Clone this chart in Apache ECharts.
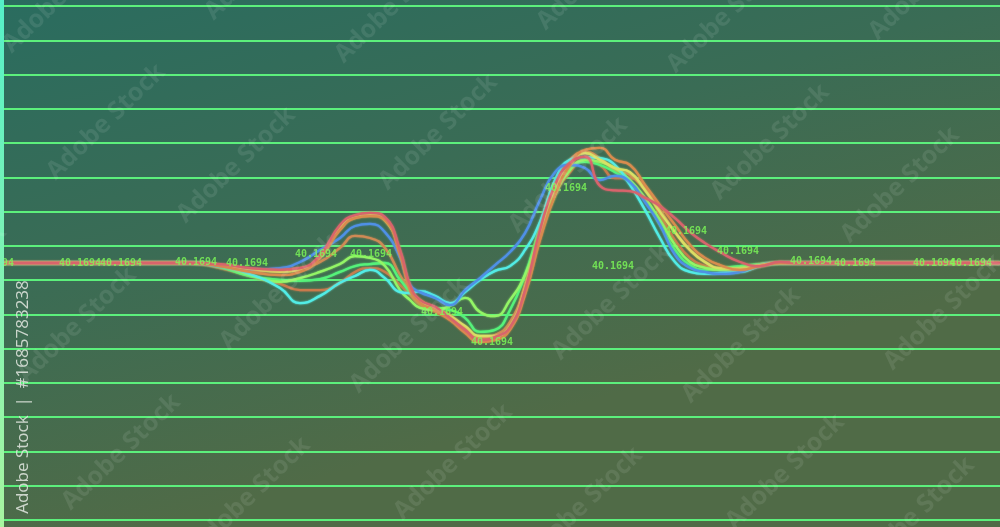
<!DOCTYPE html>
<html>
<head>
<meta charset="utf-8">
<script src="https://cdn.jsdelivr.net/npm/echarts@6/dist/echarts.min.js"></script>
<style>
html,body{margin:0;padding:0;width:1000px;height:527px;overflow:hidden;}
#chart{width:1000px;height:527px;}
</style>
</head>
<body>
<div id="chart"></div>
<script>
// shared x positions (time steps)
const xs = [0,190,220,250,280,300,320,340,355,370,385,400,410,420,435,450,465,480,495,510,525,540,555,570,585,600,615,630,645,660,675,690,705,720,740,760,780,800,1000];

const seriesRed     = [7.5,7.5,7.47,7.35,7.3,7.35,7.73,8.61,8.9,8.96, 8.84,7.88,6.86,6.42,6.22,5.9,5.55,5.25,5.34,5.63, 6.71,8.46,9.78,10.42,10.6,9.75,9.62,9.6,9.4,9.16, 8.81,8.4,8.08,7.82,7.53,7.41,7.53,7.5,7.5];
const seriesOrange  = [7.5,7.5,7.41,7.24,7.15,7.24,7.65,8.46,8.81,8.87, 8.75,7.74,6.71,6.33,6.13,5.84,5.46,5.19,5.25,5.55, 6.57,8.17,9.48,10.36,10.8,10.86,10.51,10.36,9.78,9.19, 8.61,8.03,7.65,7.44,7.3,7.41,7.5,7.5,7.5];
const seriesBlue    = [7.5,7.5,7.41,7.3,7.35,7.53,7.88,8.23,8.58,8.64, 8.4,7.65,6.86,6.65,6.48,6.27,6.71,7.06,7.44,7.82, 8.37,9.34,10.15,10.36,10.27,9.92,10.04,9.86,9.28,8.61, 7.74,7.36,7.24,7.18,7.24,7.44,7.5,7.5,7.5];
const seriesCyan    = [7.5,7.5,7.41,7.18,6.77,6.33,6.54,6.92,7.12,7.3, 7.06,6.65,6.62,6.68,6.54,6.33,6.65,7.01,7.27,7.41, 7.88,8.7,9.92,10.51,10.59,10.56,10.36,9.78,9.05,8.23, 7.53,7.24,7.18,7.21,7.24,7.41,7.5,7.5,7.5];
const seriesLime    = [7.5,7.5,7.41,7.15,6.95,7.06,7.24,7.47,7.7,7.65, 7.41,6.71,6.42,6.19,6.13,6.25,6.48,6.07,5.95,6.42, 7.15,8.32,9.48,10.21,10.51,10.45,10.27,9.92,9.4,8.75, 8.03,7.53,7.36,7.3,7.36,7.44,7.5,7.5,7.5];
const seriesGreen   = [7.5,7.5,7.38,7.12,7.01,6.98,7.03,7.24,7.41,7.47, 7.5,7.01,6.65,6.33,6.19,6.13,5.9,5.49,5.55,6.13, 7.15,8.52,9.63,10.27,10.45,10.36,10.15,9.86,9.34,8.61, 7.88,7.44,7.3,7.35,7.41,7.47,7.5,7.5,7.5];
const seriesTan     = [7.5,7.5,7.38,7.24,7.3,7.35,7.53,7.94,8.29,8.23, 7.94,7.15,6.71,6.42,6.19,5.98,5.6,5.31,5.4,5.78, 6.86,8.61,9.86,10.51,10.74,10.56,10.21,10.07,9.63,9.05, 8.4,7.88,7.53,7.35,7.35,7.47,7.5,7.5,7.5];
const seriesCopper  = [7.5,7.5,7.35,7.12,6.89,6.71,6.71,6.92,7.24,7.35, 7.24,6.86,6.57,6.27,6.07,5.84,5.49,5.25,5.31,5.66, 6.71,8.23,9.48,10.15,10.51,10.36,9.98,9.98,9.69,8.9, 8.17,7.65,7.41,7.3,7.27,7.41,7.5,7.5,7.5];
const seriesYellow  = [7.5,7.5,7.44,7.33,7.24,7.3,7.68,8.52,8.84,8.9, 8.75,7.82,6.77,6.36,6.16,5.95,5.66,5.37,5.37,5.66, 6.77,8.4,9.69,10.36,10.71,10.51,10.27,10.15,9.63,8.99, 8.4,7.88,7.53,7.35,7.33,7.44,7.5,7.5,7.5];

// value labels scattered along the trace
const labelText = '40.1694';
const labelXs = [-7,80,121,196,247,316,371,442,492,566,613,686,738,811,855,934,971];
const labelVs = [7.5,7.5,7.5,7.53,7.5,7.74,7.74,6.07,5.17,9.69,7.41,8.43,7.85,7.56,7.5,7.5,7.5];

const watermarkText = 'Adobe Stock';
const idText = 'Adobe Stock  |  #1685783238';

const lines = [
  {data: seriesCopper, color: '#c97a4c'},
  {data: seriesTan,    color: '#cf8a55'},
  {data: seriesGreen,  color: '#55f27a'},
  {data: seriesLime,   color: '#93f566'},
  {data: seriesCyan,   color: '#52ece6'},
  {data: seriesBlue,   color: '#4f90e6'},
  {data: seriesYellow, color: '#d9e065'},
  {data: seriesOrange, color: '#d98c4e'},
  {data: seriesRed,    color: '#d8646c'}
];

const chart = echarts.init(document.getElementById('chart'));

const series = lines.map((l, i) => ({
  type: 'line',
  data: xs.map((x, k) => [x, l.data[k]]),
  smooth: 0.5,
  symbol: 'none',
  z: 2 + i,
  lineStyle: {color: l.color, width: 2.3, shadowColor: l.color, shadowBlur: 2},
  silent: true
}));

series.push({
  type: 'scatter',
  data: labelXs.map((x, k) => [x, labelVs[k]]),
  symbolSize: 0,
  clip: false,
  z: 20,
  silent: true,
  label: {
    show: true,
    position: 'inside',
    formatter: labelText,
    color: '#7dfc58',
    fontFamily: 'DejaVu Sans Mono',
    fontWeight: 'bold',
    fontSize: 10
  }
});

// watermark lattice
const wm = [];
const bases = [[106,122],[236,165],[279,292],[409,335]];
for (let j = -1; j <= 1; j++) {
  for (let i = -1; i <= 3; i++) {
    bases.forEach(b => {
      const x = b[0] + i * 332 + j * 15;
      const y = b[1] + i * 10 + j * 330;
      if (x > -120 && x < 1120 && y > -90 && y < 620) {
        wm.push({
          type: 'text', x: x, y: y, rotation: 0.77, z: 100, silent: true,
          style: {text: watermarkText, fill: 'rgba(255,255,255,0.09)', font: 'bold 25px "Open Sans"', align: 'center', verticalAlign: 'middle'}
        });
      }
    });
  }
}

const option = {
  animation: false,
  backgroundColor: {
    type: 'linear', x: 0, y: 0, x2: 0.15, y2: 1,
    colorStops: [
      {offset: 0, color: '#2a6c5f'},
      {offset: 0.5, color: '#3a6c55'},
      {offset: 1, color: '#506b47'}
    ]
  },
  grid: {left: 0, right: 0, top: 6, bottom: 7},
  xAxis: {
    type: 'value', min: 0, max: 1000,
    show: false, splitLine: {show: false}
  },
  yAxis: {
    type: 'value', min: 0, max: 15, interval: 1,
    axisLine: {show: false}, axisTick: {show: false}, axisLabel: {show: false},
    splitLine: {show: true, lineStyle: {color: '#5cf07c', width: 1.8}}
  },
  series: series,
  graphic: wm.concat([
    {
      type: 'rect', left: 0, top: 0, z: 90, silent: true,
      shape: {x: 0, y: 0, width: 4, height: 527},
      style: {fill: {type: 'linear', x: 0, y: 0, x2: 0, y2: 1, colorStops: [{offset: 0, color: '#55f0c8'}, {offset: 1, color: '#a8f5a0'}]}}
    },
    {
      type: 'text', x: 23, y: 397, rotation: Math.PI / 2, z: 110, silent: true,
      style: {text: idText, fill: 'rgba(220,226,218,0.9)', font: '17px "Open Sans"', align: 'center', verticalAlign: 'middle'}
    }
  ])
};

chart.setOption(option);
</script>
</body>
</html>
